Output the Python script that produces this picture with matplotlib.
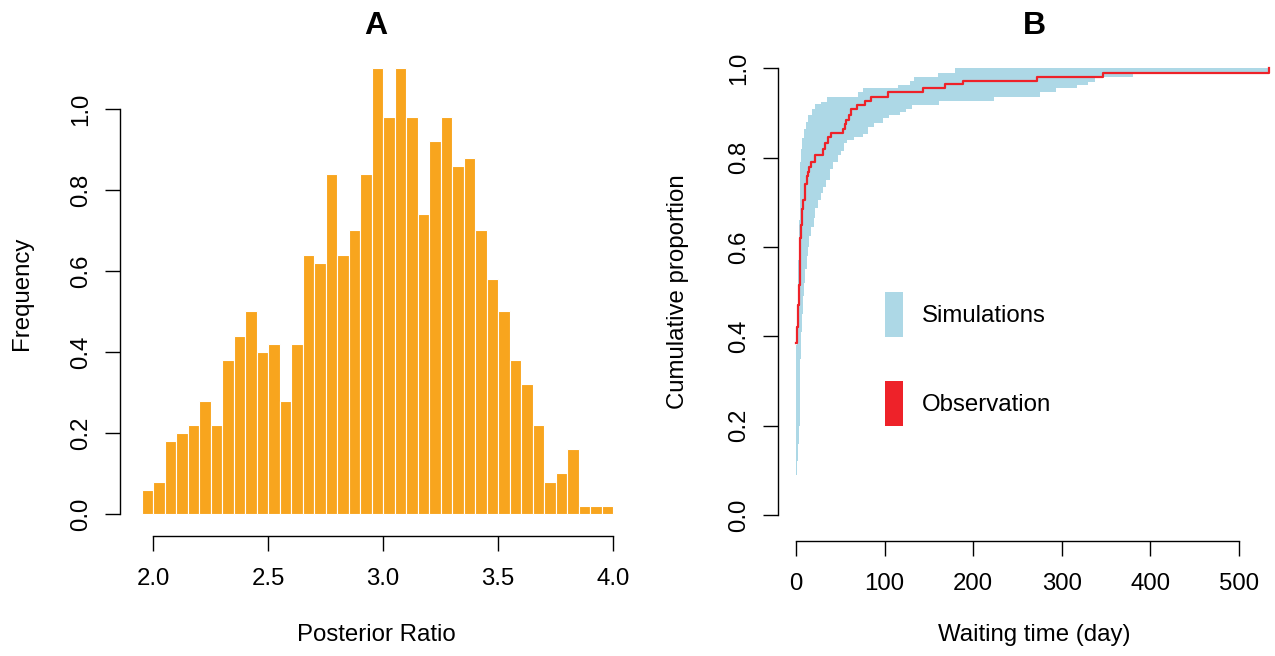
import numpy as np
import matplotlib
matplotlib.use("Agg")
import matplotlib.pyplot as plt
from matplotlib.patches import Patch

plt.rcParams['font.family'] = ['Liberation Sans', 'DejaVu Sans']

# ---- panel A: histogram of posterior ratio ----
bin_edges = np.round(np.arange(1.95, 4.0001, 0.05), 2)
freq = [0.06, 0.08, 0.18, 0.20, 0.22, 0.28, 0.22, 0.38, 0.44, 0.50,
        0.40, 0.42, 0.28, 0.42, 0.64, 0.62, 0.84, 0.64, 0.70, 0.84,
        1.10, 0.98, 1.10, 0.98, 0.74, 0.92, 0.98, 0.86, 0.88, 0.70,
        0.58, 0.50, 0.38, 0.32, 0.22, 0.08, 0.10, 0.16, 0.02, 0.02, 0.02]
a_xticks = [2.0, 2.5, 3.0, 3.5, 4.0]
a_yticks = [0.0, 0.2, 0.4, 0.6, 0.8, 1.0]

# ---- panel B: cumulative waiting time ----
obs_day = [0, 1, 2, 3, 4, 5, 6, 7, 8, 10, 12, 13, 15, 17, 21, 31, 33, 36, 40, 53,
           55, 57, 60, 62, 69, 78, 85, 104, 143, 168, 189, 272, 347, 534]
obs_cum = [0.385, 0.42, 0.47, 0.515, 0.55, 0.62, 0.65, 0.685, 0.705, 0.74,
           0.76, 0.768, 0.78, 0.79, 0.806, 0.82, 0.833, 0.847, 0.856, 0.865,
           0.875, 0.884, 0.895, 0.909, 0.918, 0.927, 0.936, 0.946, 0.955, 0.964,
           0.972, 0.981, 0.990, 1.0]

sim_up_day = [0, 1, 2, 3, 4, 5, 6, 7, 9, 11, 14, 18, 22, 28, 35, 70, 76, 115,
              129, 133, 160, 180, 534]
sim_up_cum = [0.38, 0.46, 0.57, 0.66, 0.74, 0.79, 0.82, 0.845, 0.865, 0.88,
              0.895, 0.91, 0.919, 0.925, 0.935, 0.946, 0.955, 0.963, 0.972,
              0.981, 0.989, 1.0, 1.0]

sim_lo_day = [0, 1, 2, 3, 4, 5, 6, 7, 8, 9, 10, 12, 13, 15, 17, 20, 22, 25, 28,
              31, 34, 38, 42, 47, 51, 54, 58, 66, 76, 81, 88, 98, 105, 117, 124,
              131, 161, 223, 275, 294, 317, 330, 337, 347, 380, 534]
sim_lo_cum = [0.09, 0.12, 0.16, 0.20, 0.27, 0.35, 0.41, 0.45, 0.49, 0.52, 0.55,
              0.58, 0.60, 0.625, 0.645, 0.665, 0.687, 0.705, 0.72, 0.735,
              0.75, 0.775, 0.791, 0.806, 0.815, 0.832, 0.839, 0.846, 0.854,
              0.869, 0.877, 0.888, 0.895, 0.903, 0.910, 0.918, 0.927, 0.936,
              0.946, 0.955, 0.963, 0.970, 0.978, 0.981, 0.990, 1.0]
b_xticks = [0, 100, 200, 300, 400, 500]
b_yticks = [0.0, 0.2, 0.4, 0.6, 0.8, 1.0]

W, H = 1275, 656
FS = 17.3
ORANGE = '#F8A51E'
BLUE = '#ADD8E6'
RED = '#EE2229'


def px_axes(left, top, right, bottom):
    return [left / W, 1 - bottom / H, (right - left) / W, (bottom - top) / H]


def step_post(xs, ys, grid):
    idx = np.searchsorted(xs, grid, side='right') - 1
    return np.asarray(ys)[idx]


def r_style(ax, xb, yb):
    for s in ['top', 'right']:
        ax.spines[s].set_visible(False)
    ax.spines['left'].set_bounds(*yb)
    ax.spines['bottom'].set_bounds(*xb)
    for s in ['left', 'bottom']:
        ax.spines[s].set_linewidth(1.0)
    ax.tick_params(direction='out', length=11, width=1.0, labelsize=FS)
    ax.tick_params(axis='x', pad=12)
    ax.tick_params(axis='y', pad=9)


fig = plt.figure(figsize=(W / 100, H / 100), dpi=100)

# panel A
ax1 = fig.add_axes(px_axes(120, 51, 632, 536))
ax1.bar(bin_edges[:-1], freq, width=np.diff(bin_edges), align='edge',
        color=ORANGE, edgecolor='white', linewidth=0.8)
ax1.set_xlim(1.8565, 4.0826)
ax1.set_ylim(-0.0543, 1.143)
ax1.set_xticks(a_xticks)
ax1.set_xticklabels([f'{v:.1f}' for v in a_xticks])
ax1.set_yticks(a_yticks)
ax1.set_yticklabels([f'{v:.1f}' for v in a_yticks], rotation=90, va='center')
r_style(ax1, (2.0, 4.0), (0.0, 1.0))
ax1.set_xlabel('Posterior Ratio', fontsize=FS, va='center')
ax1.xaxis.set_label_coords(0.5, (536 - 635) / 485)
ax1.set_ylabel('Frequency', fontsize=FS, va='center')
ax1.yaxis.set_label_coords((22 - 120) / 512, 0.5)
ax1.set_title('A', fontsize=23, fontweight='bold', y=(536 - 26) / 485,
              va='center', pad=0)

# panel B
ax2 = fig.add_axes(px_axes(778, 42, 1290, 541))
grid = np.union1d(sim_up_day, sim_lo_day)
ax2.fill_between(grid, step_post(sim_lo_day, sim_lo_cum, grid),
                 step_post(sim_up_day, sim_up_cum, grid),
                 step='post', color=BLUE, linewidth=0)
ax2.step(obs_day, obs_cum, where='post', color=RED, linewidth=1.6)
ax2.set_xlim(-20.3, 557.6)
ax2.set_ylim(-0.0582, 1.0589)
ax2.set_xticks(b_xticks)
ax2.set_xticklabels([str(v) for v in b_xticks])
ax2.set_yticks(b_yticks)
ax2.set_yticklabels([f'{v:.1f}' for v in b_yticks], rotation=90, va='center')
r_style(ax2, (0, 500), (0.0, 1.0))
ax2.set_xlabel('Waiting time (day)', fontsize=FS, va='center')
ax2.xaxis.set_label_coords(0.5, (541 - 635) / 499)
ax2.set_ylabel('Cumulative proportion', fontsize=FS, va='center')
ax2.yaxis.set_label_coords((678 - 778) / 512, 0.5)
ax2.set_title('B', fontsize=23, fontweight='bold', y=(541 - 26) / 499,
              va='center', pad=0)

# legend with tall filled boxes (R legend(fill=...) look)
fs_px = FS * 100 / 72
handles = [Patch(facecolor=BLUE, edgecolor='none'),
           Patch(facecolor=RED, edgecolor='none')]
ax2.legend(handles, ['Simulations', 'Observation'], loc='upper left',
           bbox_to_anchor=(885 / W, 1 - 292 / H), bbox_transform=fig.transFigure,
           frameon=False, borderpad=0, borderaxespad=0, fontsize=FS,
           handlelength=18 / fs_px, handleheight=2.5,
           labelspacing=44 / fs_px, handletextpad=19 / fs_px)

fig.savefig('out.png', dpi=100)
